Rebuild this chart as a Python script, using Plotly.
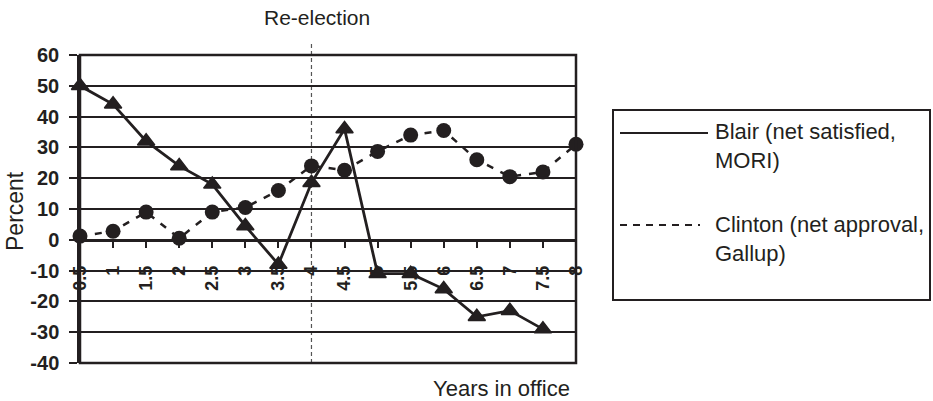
import plotly.graph_objects as go

# ---- data ----
years_blair = [0.5, 1, 1.5, 2, 2.5, 3, 3.5, 4, 4.5, 5, 5.5, 6, 6.5, 7, 7.5]
blair_net_satisfied = [50, 44, 32, 24, 18, 4.5, -8, 18.5, 36, -11, -11, -16, -25, -23, -29]

years_clinton = [0.5, 1, 1.5, 2, 2.5, 3, 3.5, 4, 4.5, 5, 5.5, 6, 6.5, 7, 7.5, 8]
clinton_net_approval = [1.2, 2.8, 9, 0.5, 9, 10.5, 16, 24, 22.6, 28.7, 34, 35.5, 26, 20.5, 22, 31]

series_names = ["Blair (net satisfied,<br>MORI)", "Clinton (net approval,<br>Gallup)"]
x_tick_vals = [0.5, 1, 1.5, 2, 2.5, 3, 3.5, 4, 4.5, 5, 5.5, 6, 6.5, 7, 7.5, 8]
x_tick_text = ["0.5", "1", "1.5", "2", "2.5", "3", "3.5", "4", "4.5", "5", "5.5", "6", "6.5", "7", "7.5", "8"]
y_tick_vals = [-40, -30, -20, -10, 0, 10, 20, 30, 40, 50, 60]
y_tick_text = ["-40", "-30", "-20", "-10", "0", "10", "20", "30", "40", "50", "60"]
re_election_year = 4
title_text = "Re-election"
x_title = "Years in office"
y_title = "Percent"

# ---- layout geometry (pixels) ----
W, H = 933, 401
L, R, T, B = 80, 357, 55, 38
PW, PH = W - L - R, H - T - B
INK = "#231f20"
FONT = "Liberation Sans, Arial, sans-serif"


def px_x(px):
    return (px - L) / PW


def px_y(py):
    return (H - B - py) / PH


fig = go.Figure()

fig.add_trace(go.Scatter(
    x=years_clinton, y=clinton_net_approval, mode="lines+markers",
    name=series_names[1], cliponaxis=False,
    line=dict(color=INK, width=2.5, dash="7px,8px"),
    marker=dict(symbol="circle", size=15, color=INK),
    showlegend=False,
))
fig.add_trace(go.Scatter(
    x=years_blair, y=blair_net_satisfied, mode="lines+markers",
    name=series_names[0], cliponaxis=False,
    line=dict(color=INK, width=2.8),
    marker=dict(symbol="triangle-up", size=15, color=INK, line=dict(color=INK, width=1.5)),
    showlegend=False,
))

shapes = [
    # plot frame
    dict(type="rect", xref="x domain", yref="y domain", x0=0, x1=1, y0=0, y1=1,
         line=dict(color=INK, width=2.5), layer="above"),
    # re-election marker
    dict(type="line", xref="x", yref="paper", x0=re_election_year, x1=re_election_year,
         y0=0, y1=px_y(42), line=dict(color="#555555", width=1.2, dash="4px,3px"), layer="below"),
    # legend box
    dict(type="rect", xref="paper", yref="paper", x0=px_x(613), x1=px_x(930),
         y0=px_y(300), y1=px_y(110), line=dict(color=INK, width=2), fillcolor="white"),
    # legend samples
    dict(type="line", xref="paper", yref="paper", x0=px_x(620), x1=px_x(708),
         y0=px_y(133), y1=px_y(133), line=dict(color=INK, width=2)),
    dict(type="line", xref="paper", yref="paper", x0=px_x(620), x1=px_x(700),
         y0=px_y(225), y1=px_y(225), line=dict(color=INK, width=2, dash="7px,6px")),
]

annotations = [
    dict(text=title_text, xref="paper", yref="paper", x=px_x(317), y=px_y(17),
         xanchor="center", yanchor="middle", showarrow=False,
         font=dict(family=FONT, size=21, color=INK)),
    dict(text=x_title, xref="paper", yref="paper", x=px_x(501), y=px_y(388),
         xanchor="center", yanchor="middle", showarrow=False,
         font=dict(family=FONT, size=22, color=INK)),
    dict(text=y_title, xref="paper", yref="paper", x=px_x(15), y=px_y(211),
         xanchor="center", yanchor="middle", showarrow=False, textangle=-90,
         font=dict(family=FONT, size=23, color=INK)),
    dict(text=series_names[0], xref="paper", yref="paper", x=px_x(713), y=px_y(146),
         xanchor="left", yanchor="middle", showarrow=False, align="left",
         font=dict(family=FONT, size=22, color=INK)),
    dict(text=series_names[1], xref="paper", yref="paper", x=px_x(713), y=px_y(239),
         xanchor="left", yanchor="middle", showarrow=False, align="left",
         font=dict(family=FONT, size=22, color=INK)),
]

fig.update_layout(
    width=W, height=H, autosize=False,
    margin=dict(l=L, r=R, t=T, b=B, pad=0),
    paper_bgcolor="white", plot_bgcolor="white",
    font=dict(family=FONT, color=INK),
    shapes=shapes, annotations=annotations, showlegend=False,
    xaxis=dict(
        range=[0.5, 8], anchor="free", position=px_y(H - B - PH * 0.4),
        tickvals=x_tick_vals, ticktext=x_tick_text, tickangle=-90,
        ticks="outside", ticklen=6, tickwidth=2, tickcolor=INK,
        ticklabelstandoff=11,
        showline=True, linecolor=INK, linewidth=2.5,
        showgrid=False, zeroline=False,
        tickfont=dict(family=FONT, size=18, color=INK, weight="bold"),
    ),
    yaxis=dict(
        range=[-40, 60], tickvals=y_tick_vals, ticktext=y_tick_text,
        ticks="outside", ticklen=8, tickwidth=2, tickcolor=INK,
        ticklabelstandoff=6,
        showline=True, linecolor=INK, linewidth=2.5,
        showgrid=True, gridcolor=INK, gridwidth=2, zeroline=False,
        tickfont=dict(family=FONT, size=20, color=INK, weight="bold"),
    ),
)

fig.write_html("out.html", config={"displayModeBar": False},
               post_script="document.body.style.margin='0';document.body.style.overflow='hidden';")
